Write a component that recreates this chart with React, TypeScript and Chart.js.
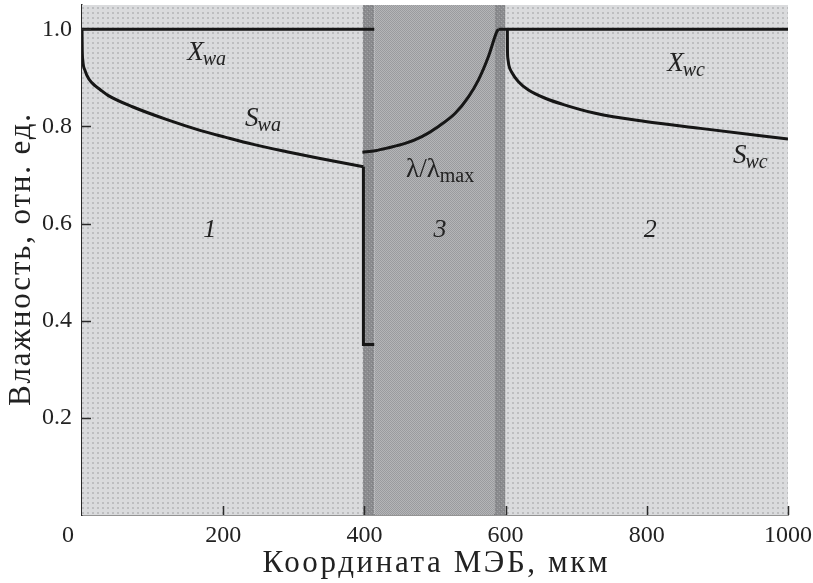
import React, { useEffect, useRef } from 'react';
import { Chart, registerables } from 'chart.js';

Chart.register(...registerables);

// ---- data ----
const xTicks = [0, 200, 400, 600, 800, 1000];
const yTicks = [0.2, 0.4, 0.6, 0.8, 1.0];

// zone boundaries along the MEA coordinate (мкм)
const zoneBounds = [0, 398, 414, 584, 600, 1000];

const xwaX = [0, 414];
const xwaY = [1.0, 1.0];

const swaX = [0, 0.3, 1.2, 4.3, 10, 18.4, 25.5, 36.8, 72.3, 120.4, 167.1, 202.6, 242.7, 290, 337.3, 398.6];
const swaY = [1.0, 0.96, 0.935, 0.915, 0.897, 0.884, 0.876, 0.864, 0.84, 0.814, 0.792, 0.778, 0.763, 0.748, 0.734, 0.717];

const swaDropX = [398.6, 398.6, 414];
const swaDropY = [0.717, 0.351, 0.351];

const lamX = [397.2, 415.2, 434, 457.7, 481.4, 504.9, 528.6, 547.4, 561.6, 575.7, 587.6, 589.9];
const lamY = [0.747, 0.75, 0.756, 0.765, 0.779, 0.8, 0.827, 0.861, 0.896, 0.944, 0.995, 1.0];

const xwcX = [589.9, 1000];
const xwcY = [1.0, 1.0];

const swcX = [602.5, 602.6, 603.2, 604.6, 608.9, 618.2, 632.4, 656.1, 679.8, 727, 797.9, 875.9, 1000];
const swcY = [1.0, 0.96, 0.94, 0.926, 0.911, 0.892, 0.875, 0.858, 0.846, 0.827, 0.81, 0.796, 0.774];

// text labels (anchored in data coordinates)
const curveLabels = [
  { main: 'X', sub: 'wa', x: 149, y: 0.937, italic: true },
  { main: 'S', sub: 'wa', x: 231, y: 0.801, italic: true },
  { main: 'λ/λ', sub: 'max', x: 459, y: 0.696, italic: false },
  { main: 'X', sub: 'wc', x: 829, y: 0.914, italic: true },
  { main: 'S', sub: 'wc', x: 922, y: 0.725, italic: true },
];
const zoneLabels = [
  { text: '1', x: 181, y: 0.572 },
  { text: '3', x: 507, y: 0.572 },
  { text: '2', x: 805, y: 0.572 },
];
const xTitle = 'Координата МЭБ, мкм';
const yTitle = 'Влажность, отн. ед.';

const FAMILY = '"Liberation Serif", "DejaVu Serif", serif';
const TEXT = '#222222';

const toPts = (xs: number[], ys: number[]) => xs.map((x, i) => ({ x, y: ys[i] }));

function makePattern(ctx: CanvasRenderingContext2D, size: number, draw: (c: CanvasRenderingContext2D) => void) {
  const c = document.createElement('canvas');
  c.width = size;
  c.height = size;
  const g = c.getContext('2d')!;
  draw(g);
  return ctx.createPattern(c, 'repeat')!;
}

const bgPlugin = {
  id: 'zonesBg',
  beforeDatasetsDraw(chart: any) {
    const { ctx, chartArea, scales } = chart;
    const xs = scales.x;
    const light = makePattern(ctx, 5, (g) => {
      g.fillStyle = '#dadbdd';
      g.fillRect(0, 0, 5, 5);
      g.fillStyle = '#bdbec0';
      g.fillRect(2, 2, 2, 2);
    });
    const dark = makePattern(ctx, 4, (g) => {
      g.fillStyle = '#8a8b8e';
      g.fillRect(0, 0, 4, 4);
      g.fillStyle = '#a2a3a5';
      g.fillRect(1, 1, 1, 1);
      g.fillRect(3, 3, 1, 1);
      g.fillStyle = '#7d7e81';
      g.fillRect(0, 2, 1, 1);
    });
    const mid = makePattern(ctx, 2, (g) => {
      g.fillStyle = '#9a9b9e';
      g.fillRect(0, 0, 2, 2);
      g.fillStyle = '#b4b5b7';
      g.fillRect(1, 0, 1, 1);
      g.fillRect(0, 1, 1, 1);
    });
    const fills = [light, dark, mid, dark, light];
    ctx.save();
    for (let i = 0; i < zoneBounds.length - 1; i++) {
      const x0 = xs.getPixelForValue(zoneBounds[i]);
      const x1 = xs.getPixelForValue(zoneBounds[i + 1]);
      ctx.fillStyle = fills[i];
      ctx.fillRect(x0, chartArea.top, x1 - x0, chartArea.bottom - chartArea.top);
    }
    ctx.restore();
  },
};

function spacedText(ctx: any, text: string, x: number, y: number, target: number) {
  ctx.letterSpacing = '0px';
  const w = ctx.measureText(text).width;
  const sp = Math.max(0, (target - w) / (text.length - 1));
  ctx.letterSpacing = `${sp}px`;
  ctx.textAlign = 'left';
  const shown = w + sp * (text.length - 1);
  ctx.fillText(text, x - shown / 2, y);
  ctx.letterSpacing = '0px';
}

const overlayPlugin = {
  id: 'overlay',
  afterDraw(chart: any) {
    const { ctx, chartArea, scales } = chart;
    const xs = scales.x;
    const ys = scales.y;
    ctx.save();
    // inward ticks
    ctx.strokeStyle = '#2a2a2a';
    ctx.lineWidth = 1.5;
    ctx.beginPath();
    xTicks.forEach((v) => {
      if (v === 0) return;
      const px = Math.round(xs.getPixelForValue(v)) + 0.5;
      ctx.moveTo(px, chartArea.bottom);
      ctx.lineTo(px, chartArea.bottom - 9);
    });
    yTicks.forEach((v) => {
      const py = Math.round(ys.getPixelForValue(v)) + 0.5;
      ctx.moveTo(chartArea.left, py);
      ctx.lineTo(chartArea.left + 9, py);
    });
    ctx.stroke();

    ctx.fillStyle = TEXT;
    // corner zero
    ctx.font = `24px ${FAMILY}`;
    ctx.textAlign = 'center';
    ctx.textBaseline = 'middle';
    ctx.fillText('0', chartArea.left - 14, chartArea.bottom + 21);

    // axis titles
    ctx.font = `31px ${FAMILY}`;
    ctx.textBaseline = 'middle';
    spacedText(ctx, xTitle, (chartArea.left + chartArea.right) / 2, 564, 345);
    ctx.save();
    ctx.translate(22, (chartArea.top + chartArea.bottom) / 2);
    ctx.rotate(-Math.PI / 2);
    spacedText(ctx, yTitle, 0, 0, 292);
    ctx.restore();

    // curve labels
    ctx.textAlign = 'left';
    ctx.textBaseline = 'alphabetic';
    curveLabels.forEach((l) => {
      const px = xs.getPixelForValue(l.x);
      const py = ys.getPixelForValue(l.y);
      const st = l.italic ? 'italic ' : '';
      ctx.font = `${st}27px ${FAMILY}`;
      ctx.fillText(l.main, px, py);
      const w = ctx.measureText(l.main).width;
      ctx.font = `${st}20px ${FAMILY}`;
      ctx.fillText(l.sub, px + w - (l.italic ? 1 : 0), py + 5);
    });
    ctx.textAlign = 'center';
    ctx.font = `italic 26px ${FAMILY}`;
    zoneLabels.forEach((l) => {
      ctx.fillText(l.text, xs.getPixelForValue(l.x), ys.getPixelForValue(l.y));
    });
    ctx.restore();
  },
};

export default function App() {
  const ref = useRef<HTMLCanvasElement | null>(null);
  useEffect(() => {
    document.body.style.margin = '0';
    const canvas = ref.current!;
    const line = {
      borderColor: '#161616',
      borderWidth: 3,
      pointRadius: 0,
      fill: false,
      borderCapStyle: 'butt',
      borderJoinStyle: 'miter',
    };
    const chart = new Chart(canvas, {
      type: 'line',
      data: {
        datasets: [
          { ...line, data: toPts(xwaX, xwaY), tension: 0 },
          { ...line, data: toPts(swaX, swaY), cubicInterpolationMode: 'monotone' },
          { ...line, data: toPts(swaDropX, swaDropY), tension: 0 },
          { ...line, data: toPts(lamX, lamY), cubicInterpolationMode: 'monotone' },
          { ...line, data: toPts(xwcX, xwcY), tension: 0 },
          { ...line, data: toPts(swcX, swcY), cubicInterpolationMode: 'monotone' },
        ] as any,
      },
      options: {
        animation: false,
        responsive: false,
        maintainAspectRatio: false,
        events: [],
        layout: { padding: { top: 5, right: 25, left: 0, bottom: 0 } },
        plugins: { legend: { display: false }, tooltip: { enabled: false } },
        scales: {
          x: {
            type: 'linear',
            min: 0,
            max: 1000,
            afterBuildTicks: (s: any) => {
              s.ticks = xTicks.map((v) => ({ value: v }));
            },
            afterFit: (s: any) => {
              s.height = 68;
              s.paddingLeft = 0;
              s.paddingRight = 0;
            },
            grid: { display: false },
            border: { display: true, color: '#2a2a2a', width: 1.5 },
            ticks: {
              callback: (v: any) => (Number(v) === 0 ? '' : String(v)),
              font: { family: FAMILY, size: 24 },
              color: TEXT,
              padding: -2,
              maxRotation: 0,
              autoSkip: false,
            },
          },
          y: {
            type: 'linear',
            min: 0,
            max: 1.05,
            afterBuildTicks: (s: any) => {
              s.ticks = yTicks.map((v) => ({ value: v }));
            },
            afterFit: (s: any) => {
              s.width = 82;
              s.paddingTop = 0;
              s.paddingBottom = 0;
            },
            grid: { display: false },
            border: { display: true, color: '#2a2a2a', width: 1.5 },
            ticks: {
              callback: (v: any) => Number(v).toFixed(1),
              font: { family: FAMILY, size: 24 },
              color: TEXT,
              padding: 2,
            },
          },
        },
      } as any,
      plugins: [bgPlugin, overlayPlugin],
    });
    return () => chart.destroy();
  }, []);
  return (
    <div style={{ width: 813, height: 583 }}>
      <canvas ref={ref} width={813} height={583} style={{ display: 'block' }} />
    </div>
  );
}
